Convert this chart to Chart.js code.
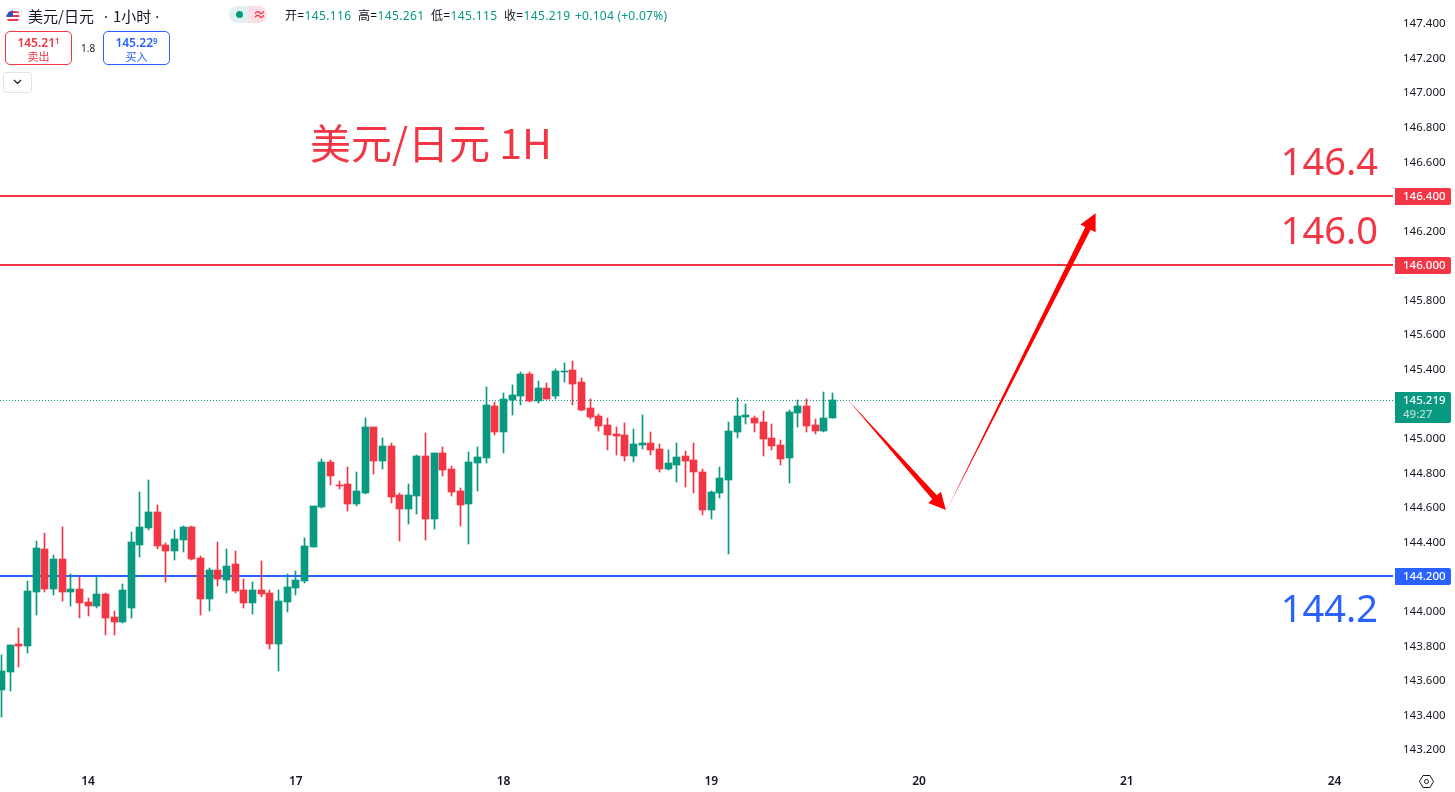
<!DOCTYPE html>
<html lang="zh">
<head>
<meta charset="utf-8">
<title>美元/日元 1H</title>
<style>
html, body { margin: 0; padding: 0; background: #fff; overflow: hidden; }
body { font-family: "Noto Sans", "Noto Sans CJK SC", sans-serif; color: #131722; }
#wrap { position: relative; width: 1455px; height: 792px; }
#wrap div, #wrap span { position: absolute; white-space: nowrap; }
#wrap .inl { position: static; }
.up { color: #089981; }
.box { box-sizing: border-box; width: 67px; height: 34px; border: 1px solid; border-radius: 5px; text-align: center; background: #fff; }
.box b { display: block; position: static; font-size: 12px; font-weight: 600; line-height: 15px; margin-top: 3px; }
.box b sup { font-size: 8px; line-height: 0; vertical-align: 3px; }
.box i { display: block; font-style: normal; font-size: 11px; line-height: 12px; font-family: "Noto Sans CJK SC"; }
</style>
</head>
<body>
<div id="wrap">
  <canvas id="grafico" width="1455" height="792"></canvas>

  <svg style="position:absolute;left:5px;top:7px" width="18" height="18" viewBox="0 0 18 18">
    <circle cx="12" cy="6" r="5" fill="#fff" stroke="#e3e6ee"/>
    <circle cx="12" cy="6" r="2" fill="#f23645"/>
    <clipPath id="cc"><circle cx="8" cy="10" r="6.5"/></clipPath>
    <g clip-path="url(#cc)">
      <rect x="0" y="3" width="16" height="14" fill="#fff"/>
      <rect x="0" y="4" width="16" height="2" fill="#f23645"/>
      <rect x="0" y="8" width="16" height="2" fill="#f23645"/>
      <rect x="0" y="12" width="16" height="2" fill="#f23645"/>
      <rect x="0" y="3" width="8" height="7" fill="#3056b8"/>
    </g>
  </svg>
  <div style="left:28px;top:6px;font-size:15px;line-height:20px;font-family:'Noto Sans CJK SC'">美元/日元<span class="inl" style="font-family:'Noto Sans';margin:0 5px 0 10px">·</span>1小时<span class="inl" style="font-family:'Noto Sans';margin-left:4px">·</span></div>

  <div style="left:229px;top:6px;width:19px;height:17px;background:#e0f2ef;border-radius:9px 0 0 9px"></div>
  <div style="left:248px;top:6px;width:19px;height:17px;background:#fbdde6;border-radius:0 9px 9px 0"></div>
  <div style="left:236px;top:11px;width:7px;height:7px;background:#089981;border-radius:50%"></div>
  <div style="left:253px;top:5px;font-size:13px;line-height:18px;color:#f23645;font-weight:700">≈</div>

  <div style="left:285px;top:7px;font-size:12px;line-height:18px;letter-spacing:.35px">开=<span class="up inl">145.116</span></div>
  <div style="left:358px;top:7px;font-size:12px;line-height:18px;letter-spacing:.35px">高=<span class="up inl">145.261</span></div>
  <div style="left:431px;top:7px;font-size:12px;line-height:18px;letter-spacing:.35px">低=<span class="up inl">145.115</span></div>
  <div style="left:504px;top:7px;font-size:12px;line-height:18px;letter-spacing:.35px">收=<span class="up inl">145.219</span></div>
  <div class="up" style="left:575px;top:7px;font-size:12px;line-height:18px;letter-spacing:.25px">+0.104 (+0.07%)</div>

  <div class="box" style="left:5px;top:31px;border-color:#f23645;color:#f23645"><b>145.21<sup>1</sup></b><i>卖出</i></div>
  <div style="left:81px;top:41px;font-size:10px;line-height:14px">1.8</div>
  <div class="box" style="left:103px;top:31px;border-color:#2962ff;color:#2962ff"><b>145.22<sup>9</sup></b><i>买入</i></div>

  <div style="left:3px;top:72px;width:27px;height:19px;border:1px solid #e0e3eb;border-radius:3px"></div>
  <svg style="position:absolute;left:13px;top:79px" width="9" height="6" viewBox="0 0 9 6"><path d="M1 1l3.5 3.5L8 1" fill="none" stroke="#131722" stroke-width="1.2"/></svg>

  <svg style="position:absolute;left:1418px;top:773px" width="17" height="17" viewBox="0 0 17 17"><path d="M5 2.5h7l3.5 6-3.5 6H5l-3.5-6z" fill="none" stroke="#131722"/><circle cx="8.5" cy="8.5" r="2" fill="none" stroke="#131722"/></svg>
</div>

<script src="https://cdn.jsdelivr.net/npm/chart.js@4/dist/chart.umd.min.js"></script>
<script>
// candele orarie USD/JPY
const opens = [
  143.542, 143.646, 143.808, 143.796, 144.109, 144.357, 144.126, 144.299, 144.109, 144.126,
  144.051, 144.028, 144.097, 143.965, 143.936, 144.016, 144.380, 144.479, 144.571, 144.380,
  144.346, 144.409, 144.485, 144.305, 144.069, 144.236, 144.178, 144.271, 144.120, 144.045,
  144.120, 144.103, 143.808, 144.051, 144.132, 144.173, 144.369, 144.600, 144.860, 144.727,
  144.733, 144.618, 144.681, 145.063, 144.866, 144.953, 144.670, 144.589, 144.664, 144.895,
  144.531, 144.913, 144.820, 144.693, 144.618, 144.855, 144.884, 145.184, 145.034, 145.219,
  145.242, 145.369, 145.213, 145.288, 145.242, 145.381, 145.393, 145.323, 145.173, 145.126,
  145.074, 145.022, 145.017, 144.895, 144.959, 144.970, 144.936, 144.820, 144.843, 144.895,
  144.872, 144.803, 144.583, 144.681, 144.756, 145.034, 145.120, 145.115, 145.092, 144.999,
  144.959, 144.884, 145.144, 145.184, 145.074, 145.040, 145.116
];
const highs = [
  143.744, 143.802, 143.900, 144.173, 144.404, 144.450, 144.323, 144.485, 144.213, 144.196,
  144.074, 144.201, 144.103, 143.999, 144.155, 144.456, 144.687, 144.756, 144.612, 144.392,
  144.468, 144.491, 144.491, 144.317, 144.248, 144.398, 144.357, 144.346, 144.184, 144.167,
  144.288, 144.120, 144.120, 144.213, 144.230, 144.421, 144.606, 144.878, 144.872, 144.751,
  144.832, 144.803, 145.115, 145.063, 144.999, 144.970, 144.681, 144.733, 144.901, 145.028,
  144.913, 144.947, 144.837, 144.710, 144.918, 144.947, 145.294, 145.207, 145.259, 145.306,
  145.381, 145.381, 145.329, 145.317, 145.398, 145.433, 145.445, 145.346, 145.225, 145.138,
  145.115, 145.063, 145.086, 145.051, 145.132, 145.034, 144.965, 144.930, 144.970, 144.924,
  144.970, 144.820, 144.693, 144.832, 145.092, 145.231, 145.196, 145.126, 145.155, 145.080,
  144.988, 145.161, 145.219, 145.225, 145.109, 145.265, 145.261
];
const lows = [
  143.386, 143.536, 143.675, 143.756, 143.976, 144.109, 144.092, 144.057, 144.028, 143.959,
  143.970, 144.016, 143.860, 143.860, 143.930, 143.959, 144.311, 144.468, 144.357, 144.167,
  144.294, 144.340, 144.294, 143.976, 143.999, 144.144, 144.103, 144.103, 144.016, 143.982,
  144.080, 143.779, 143.652, 143.993, 144.092, 144.161, 144.369, 144.595, 144.727, 144.704,
  144.577, 144.606, 144.675, 144.791, 144.820, 144.623, 144.404, 144.502, 144.560, 144.409,
  144.473, 144.779, 144.664, 144.491, 144.386, 144.693, 144.855, 145.017, 144.913, 145.132,
  145.190, 145.207, 145.202, 145.225, 145.225, 145.323, 145.190, 145.155, 145.109, 145.040,
  144.930, 144.901, 144.866, 144.860, 144.936, 144.901, 144.803, 144.814, 144.745, 144.716,
  144.681, 144.554, 144.531, 144.652, 144.329, 144.999, 145.080, 145.034, 144.895, 144.930,
  144.843, 144.739, 145.063, 145.034, 145.022, 145.034, 145.115
];
const closes = [
  143.652, 143.802, 143.796, 144.115, 144.363, 144.126, 144.299, 144.109, 144.126, 144.045,
  144.028, 144.097, 143.959, 143.936, 144.120, 144.398, 144.485, 144.571, 144.375, 144.346,
  144.415, 144.485, 144.299, 144.069, 144.236, 144.184, 144.259, 144.115, 144.045, 144.120,
  144.097, 143.808, 144.057, 144.138, 144.178, 144.375, 144.606, 144.860, 144.779, 144.722,
  144.618, 144.693, 145.063, 144.866, 144.953, 144.658, 144.589, 144.670, 144.895, 144.531,
  144.913, 144.814, 144.687, 144.612, 144.860, 144.889, 145.190, 145.034, 145.225, 145.248,
  145.369, 145.213, 145.288, 145.225, 145.387, 145.387, 145.312, 145.161, 145.120, 145.069,
  145.017, 145.011, 144.895, 144.965, 144.970, 144.930, 144.820, 144.855, 144.889, 144.866,
  144.803, 144.583, 144.687, 144.768, 145.040, 145.126, 145.132, 145.086, 144.993, 144.953,
  144.878, 145.150, 145.184, 145.069, 145.040, 145.115, 145.219
];

const yTicks = [143.2, 143.4, 143.6, 143.8, 144.0, 144.2, 144.4, 144.6, 144.8, 145.0, 145.2, 145.4, 145.6, 145.8, 146.0, 146.2, 146.4, 146.6, 146.8, 147.0, 147.2, 147.4];
const dayTicks = [10, 34, 58, 82, 106, 130, 154];
const dayLabels = ['14', '17', '18', '19', '20', '21', '24'];

const levels = [146.4, 146.0, 144.2];
const levelColors = ['#f23645', '#f23645', '#2962ff'];
const levelLabels = ['146.4', '146.0', '144.2'];
const lastPrice = 145.219;
const countdown = '49:27';

// frecce disegnate a mano: indice candela / prezzo
const arrowDownX = [97.8, 109.1];
const arrowDownY = [145.219, 144.583];
const arrowUpX = [109.2, 126.4];
const arrowUpY = [144.583, 146.30];

const UP = '#089981';
const DOWN = '#f23645';
const FONT = "'Noto Sans', 'Noto Sans CJK SC', sans-serif";
const xMin = -0.173;
const xMax = 160.756;

const idx = opens.map((_, i) => i);
const candleColors = idx.map(i => closes[i] >= opens[i] ? UP : DOWN);

function flatLine(price) {
    return [{ x: xMin, y: price }, { x: xMax, y: price }];
}

function drawArrow(c, x0, y0, x1, y1) {
    const a = Math.atan2(y1 - y0, x1 - x0);
    const px = -Math.sin(a), py = Math.cos(a);
    const nx = x1 - Math.cos(a) * 17, ny = y1 - Math.sin(a) * 17;
    c.fillStyle = '#ff0000';
    c.beginPath();
    c.moveTo(x0, y0);
    c.lineTo(nx + px * 3, ny + py * 3);
    c.lineTo(nx + px * 8.5, ny + py * 8.5);
    c.lineTo(x1, y1);
    c.lineTo(nx - px * 8.5, ny - py * 8.5);
    c.lineTo(nx - px * 3, ny - py * 3);
    c.closePath();
    c.fill();
}

function priceTag(c, y, h, color) {
    c.fillStyle = color;
    c.beginPath();
    c.roundRect(1395, y - 8, 56, h, [0, 2, 2, 0]);
    c.fill();
}

// allinea candele e linee ai pixel, altrimenti escono sfocate
const snap = {
    id: 'snap',
    afterDatasetsUpdate(chart) {
        chart.data.datasets.forEach((ds, i) => {
            chart.getDatasetMeta(i).data.forEach(el => {
                if (ds.type === 'bar') {
                    el.x = Math.floor(el.x) + 0.5;
                    const top = Math.round(Math.min(el.y, el.base));
                    const bottom = Math.max(Math.round(Math.max(el.y, el.base)), top + 1);
                    el.y = top;
                    el.base = bottom;
                } else if (ds.borderWidth === 1) {
                    el.y = Math.floor(el.y) + 0.5;
                } else {
                    el.y = Math.round(el.y);
                }
            });
        });
    }
};

const overlay = {
    id: 'overlay',
    beforeDraw(chart) {
        // le etichette dell'asse y stanno 1px troppo in alto
        const sy = chart.scales.y;
        if (sy.shifted) return;
        sy.shifted = true;
        const drawLabels = sy.drawLabels;
        sy.drawLabels = function (area) {
            chart.ctx.save();
            chart.ctx.translate(0, 1);
            drawLabels.call(this, area);
            chart.ctx.restore();
        };
    },
    afterDraw(chart) {
        const c = chart.ctx;
        const sx = chart.scales.x, sy = chart.scales.y;
        c.save();

        drawArrow(c, sx.getPixelForValue(arrowDownX[0]), sy.getPixelForValue(arrowDownY[0]),
            sx.getPixelForValue(arrowDownX[1]), sy.getPixelForValue(arrowDownY[1]));
        drawArrow(c, sx.getPixelForValue(arrowUpX[0]), sy.getPixelForValue(arrowUpY[0]),
            sx.getPixelForValue(arrowUpX[1]), sy.getPixelForValue(arrowUpY[1]));

        // scritte grandi
        c.textBaseline = 'alphabetic';
        c.textAlign = 'left';
        c.fillStyle = '#f23645';
        c.font = "41px 'Noto Sans CJK SC'";
        c.fillText('美元/日元 1H', 310, 159);
        c.textAlign = 'right';
        levels.forEach((p, i) => {
            c.fillStyle = levelColors[i];
            c.font = '38px ' + FONT;
            const below = i === 2 ? 46 : -21;
            c.fillText(levelLabels[i], 1378, sy.getPixelForValue(p) + below);
        });

        // etichette di prezzo sull'asse
        c.textAlign = 'left';
        c.textBaseline = 'middle';
        c.font = '500 11.5px ' + FONT;
        levels.forEach((p, i) => {
            const y = Math.round(sy.getPixelForValue(p));
            priceTag(c, y, 17, levelColors[i]);
            c.fillStyle = '#fff';
            c.fillText(p.toFixed(3), 1403, y + 1);
        });
        const ly = Math.round(sy.getPixelForValue(lastPrice));
        priceTag(c, ly, 31, UP);
        c.fillStyle = '#fff';
        c.fillText(lastPrice.toFixed(3), 1403, ly + 1);
        c.fillStyle = 'rgba(255,255,255,0.7)';
        c.fillText(countdown, 1403, ly + 15);
        c.restore();
    }
};

new Chart(document.getElementById('grafico').getContext('2d'), {
    data: {
        datasets: [
            {
                type: 'bar',
                data: idx.map(i => ({ x: i, y: [opens[i], closes[i]] })),
                backgroundColor: candleColors,
                barThickness: 7,
                grouped: false,
                order: 1
            },
            {
                type: 'bar',
                data: idx.map(i => ({ x: i, y: [lows[i], highs[i]] })),
                backgroundColor: candleColors,
                barThickness: 1,
                grouped: false,
                order: 2
            },
            ...levels.map((p, i) => ({
                type: 'line',
                data: flatLine(p),
                borderColor: levelColors[i],
                borderWidth: 2,
                pointRadius: 0,
                order: 3
            })),
            {
                type: 'line',
                data: flatLine(lastPrice),
                borderColor: UP,
                borderWidth: 1,
                borderDash: [1, 2],
                pointRadius: 0,
                order: 4
            }
        ]
    },
    options: {
        responsive: false,
        animation: false,
        layout: { padding: 0 },
        plugins: { legend: { display: false }, tooltip: { enabled: false } },
        scales: {
            x: {
                type: 'linear',
                offset: false,
                min: xMin,
                max: xMax,
                grid: { display: false, drawTicks: false },
                border: { display: false },
                afterBuildTicks(scale) {
                    scale.ticks = dayTicks.map(v => ({ value: v }));
                },
                afterFit(scale) {
                    scale.height = 24;
                    scale.paddingLeft = 0;
                    scale.paddingRight = 0;
                },
                ticks: {
                    autoSkip: false,
                    maxRotation: 0,
                    padding: 6,
                    color: '#131722',
                    font: { family: FONT, size: 12, weight: '600' },
                    callback: v => dayLabels[dayTicks.indexOf(v)]
                }
            },
            y: {
                position: 'right',
                min: 143.091,
                max: 147.533,
                grid: { display: false, drawTicks: false },
                border: { display: false },
                afterBuildTicks(scale) {
                    scale.ticks = yTicks.map(v => ({ value: v }));
                },
                afterFit(scale) {
                    scale.width = 62;
                    scale.paddingTop = 0;
                    scale.paddingBottom = 0;
                },
                ticks: {
                    autoSkip: false,
                    padding: 10,
                    color: '#131722',
                    font: { family: FONT, size: 11.5 },
                    callback: v => v.toFixed(3)
                }
            }
        }
    },
    plugins: [snap, overlay]
});
</script>
</body>
</html>
